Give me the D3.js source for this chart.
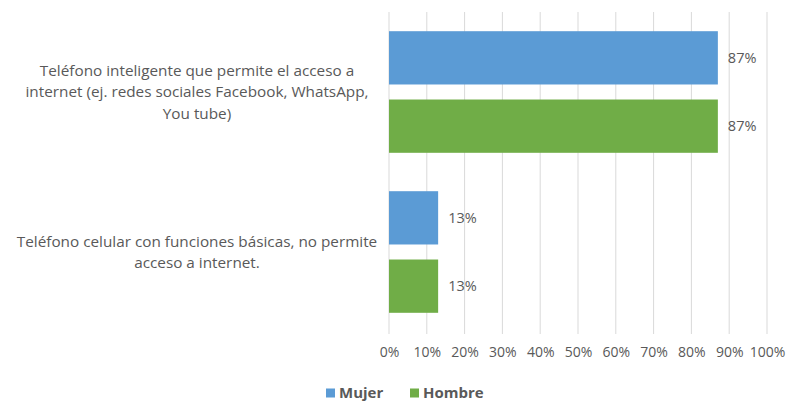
<!DOCTYPE html>
<html>
<head>
<meta charset="utf-8">
<script src="https://cdn.jsdelivr.net/npm/d3@7/dist/d3.min.js"></script>
<style>
  html, body { margin: 0; padding: 0; background: #ffffff; }
  svg { display: block; }
  text { font-family: "Open Sans", "Noto Sans", sans-serif; fill: #595959; }
</style>
</head>
<body>
<svg id="chart" width="786" height="404"></svg>
<script>
// Device types (each label split into its display lines)
const categories = [
  "Teléfono inteligente que permite el acceso a internet",
  "Teléfono celular con funciones básicas, no permite acceso a internet"
];
const categoryLines = [
  ["Teléfono inteligente que permite el acceso a", "internet (ej. redes sociales Facebook, WhatsApp,", "You tube)"],
  ["Teléfono celular con funciones básicas, no permite", "acceso a internet."]
];
const seriesNames = ["Mujer", "Hombre"];
const mujer = [87, 13];
const hombre = [87, 13];
const tickValues = [0, 10, 20, 30, 40, 50, 60, 70, 80, 90, 100];
const colors = ["#5B9BD5", "#70AD47"];

const svg = d3.select("#chart");
const plot = { left: 389, right: 767, top: 12, bottom: 332 };

const x = d3.scaleLinear().domain([0, 100]).range([plot.left, plot.right]);
const y0 = d3.scaleBand().domain(categories).range([plot.top, plot.bottom]).paddingInner(0.24).paddingOuter(0.12);
const y1 = d3.scaleBand().domain(seriesNames).range([0, y0.bandwidth()]).paddingInner(0.22);

// vertical gridlines
svg.append("g")
  .selectAll("line")
  .data(tickValues)
  .join("line")
  .attr("x1", d => x(d)).attr("x2", d => x(d))
  .attr("y1", plot.top).attr("y2", plot.bottom + 2)
  .attr("stroke", "#d9d9d9").attr("stroke-width", 1);

// x axis tick labels
const xAxis = d3.axisBottom(x).tickValues(tickValues).tickSize(0).tickPadding(0).tickFormat(d => d + "%");
const ax = svg.append("g").attr("transform", `translate(0,${plot.bottom + 15})`).call(xAxis);
ax.select(".domain").remove();
ax.selectAll("text").attr("font-size", 14).attr("fill", "#595959")
  .style("font-family", '"Open Sans", "Noto Sans", sans-serif');

// bars
const rows = categories.map((c, i) => ({ cat: c, values: [
  { name: seriesNames[0], v: mujer[i], color: colors[0] },
  { name: seriesNames[1], v: hombre[i], color: colors[1] }
]}));

const groups = svg.append("g").selectAll("g")
  .data(rows).join("g")
  .attr("transform", d => `translate(0,${y0(d.cat)})`);

groups.selectAll("rect")
  .data(d => d.values).join("rect")
  .attr("x", x(0))
  .attr("y", d => y1(d.name))
  .attr("width", d => x(d.v) - x(0))
  .attr("height", y1.bandwidth())
  .attr("fill", d => d.color);

groups.selectAll("text.val")
  .data(d => d.values).join("text")
  .attr("class", "val")
  .attr("x", d => x(d.v) + 10)
  .attr("y", d => y1(d.name) + y1.bandwidth() / 2)
  .attr("dy", "0.35em")
  .attr("font-size", 14.5)
  .text(d => d.v + "%");

// category labels
const lineH = 21.5;
svg.append("g").selectAll("text")
  .data(categories).join("text")
  .attr("text-anchor", "middle")
  .attr("font-size", 15.3)
  .each(function(c, i) {
    const lines = categoryLines[i];
    const cy = y0(c) + y0.bandwidth() / 2;
    const start = cy - (lines.length - 1) * lineH / 2;
    d3.select(this).selectAll("tspan").data(lines).join("tspan")
      .attr("x", 197)
      .attr("y", (d, j) => start + j * lineH)
      .attr("dy", "0.35em")
      .text(d => d);
  });

// legend
const legend = svg.append("g").attr("transform", "translate(326,393)");
const items = [{ name: seriesNames[0], color: colors[0], x: 0 }, { name: seriesNames[1], color: colors[1], x: 84 }];
items.forEach(it => {
  legend.append("rect").attr("x", it.x).attr("y", -4.5).attr("width", 9).attr("height", 9).attr("fill", it.color);
  legend.append("text").attr("x", it.x + 13).attr("y", 0).attr("dy", "0.35em")
    .attr("font-size", 15).attr("font-weight", "bold").text(it.name);
});
</script>
</body>
</html>
